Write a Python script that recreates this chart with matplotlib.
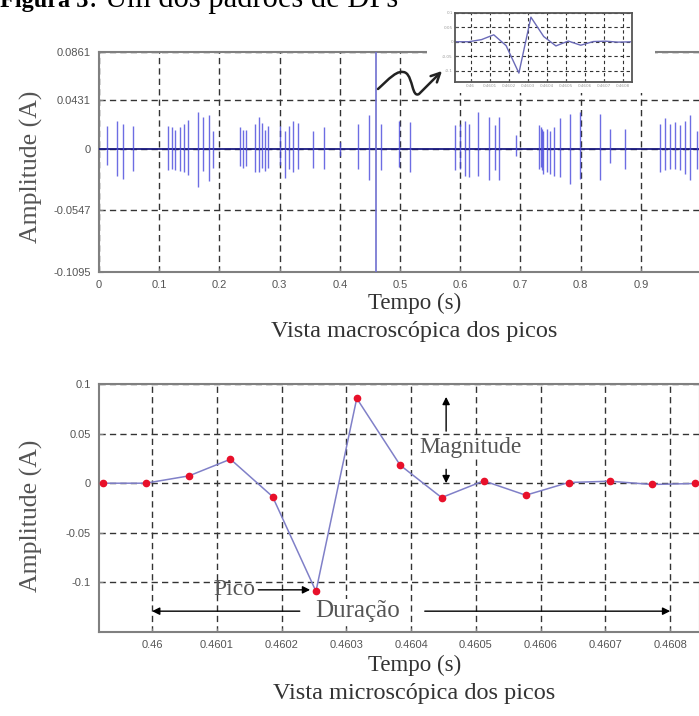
import matplotlib.pyplot as plt
from matplotlib.path import Path
from matplotlib.patches import FancyArrowPatch, Rectangle

# macroscopic view: spikes (time s, upper and lower extent in A)
spike_t = [0.014, 0.030, 0.040, 0.057, 0.115, 0.121, 0.127, 0.135, 0.142, 0.148,
           0.165, 0.173, 0.182, 0.190, 0.234, 0.240, 0.245, 0.259, 0.265, 0.270,
           0.276, 0.281, 0.300, 0.309, 0.316, 0.323, 0.331, 0.356, 0.373, 0.400,
           0.431, 0.449, 0.468, 0.499, 0.516, 0.591, 0.600, 0.608, 0.615, 0.630,
           0.648, 0.657, 0.665, 0.692, 0.731, 0.734, 0.736, 0.738, 0.744, 0.749,
           0.756, 0.766, 0.782, 0.799, 0.832, 0.849, 0.874, 0.932, 0.940, 0.949,
           0.957, 0.965, 0.973, 0.982, 0.993]
spike_hi = [0.020, 0.025, 0.022, 0.020, 0.020, 0.019, 0.017, 0.019, 0.022, 0.026,
            0.033, 0.028, 0.030, 0.016, 0.019, 0.017, 0.017, 0.022, 0.028, 0.023,
            0.017, 0.020, 0.020, 0.016, 0.020, 0.025, 0.023, 0.016, 0.019, 0.006,
            0.022, 0.030, 0.022, 0.025, 0.024, 0.021, 0.022, 0.025, 0.022, 0.033,
            0.028, 0.021, 0.028, 0.012, 0.021, 0.019, 0.018, 0.016, 0.018, 0.016,
            0.019, 0.027, 0.031, 0.033, 0.031, 0.018, 0.018, 0.022, 0.027, 0.022,
            0.024, 0.021, 0.025, 0.030, 0.016]
spike_lo = [-0.014, -0.024, -0.027, -0.020, -0.019, -0.018, -0.019, -0.020, -0.021, -0.023,
            -0.034, -0.020, -0.029, -0.017, -0.015, -0.017, -0.015, -0.021, -0.021, -0.017,
            -0.020, -0.017, -0.014, -0.026, -0.018, -0.021, -0.018, -0.017, -0.018, -0.006,
            -0.018, -0.028, -0.019, -0.016, -0.021, -0.019, -0.018, -0.024, -0.025, -0.024,
            -0.028, -0.019, -0.028, -0.006, -0.018, -0.016, -0.019, -0.022, -0.021, -0.022,
            -0.024, -0.025, -0.031, -0.027, -0.028, -0.013, -0.018, -0.021, -0.019, -0.018,
            -0.018, -0.019, -0.022, -0.028, -0.018]
baseline_t = [0.0, 1.0]
baseline_a = [0.0, 0.0]
marker_t = 0.46
top_yticks = [-0.1095, -0.0547, 0, 0.0431, 0.0861]
top_yticklabels = ['-0.1095', '-0.0547', '0', '0.0431', '0.0861']
top_xticks = [0, 0.1, 0.2, 0.3, 0.4, 0.5, 0.6, 0.7, 0.8, 0.9]

# microscopic view: the samples of one pulse
pulse_t = [0.459924, 0.459990, 0.460057, 0.460121, 0.460186, 0.460253, 0.460316,
           0.460383, 0.460447, 0.460512, 0.460577, 0.460643, 0.460707, 0.460772, 0.460838]
pulse_a = [0.0, 0.0, 0.0074, 0.0242, -0.0135, -0.109, 0.0855,
           0.0182, -0.0145, 0.0024, -0.0121, 0.0007, 0.0020, -0.0013, -0.0003]
bot_xticks = [0.46, 0.4601, 0.4602, 0.4603, 0.4604, 0.4605, 0.4606, 0.4607, 0.4608]
bot_xticklabels = ['0.46', '0.4601', '0.4602', '0.4603', '0.4604', '0.4605', '0.4606', '0.4607', '0.4608']
bot_yticks = [-0.1, -0.05, 0, 0.05, 0.1]
bot_yticklabels = ['-0.1', '-0.05', '0', '0.05', '0.1']

W, H = 699, 716
serif = 'Liberation Serif'
sans = 'Liberation Sans'
txt_col = '#555555'
grid_kw = dict(color='#333333', linestyle=(0, (4.5, 3)), linewidth=1.0)

fig = plt.figure(figsize=(W / 100, H / 100), dpi=100)


def style_axes(ax, lsize=8):
    ax.grid(True, **grid_kw)
    for s in ax.spines.values():
        s.set_color('#808080')
        s.set_linewidth(1.5)
    ax.tick_params(direction='in', length=3, color='#808080', labelcolor=txt_col,
                   labelsize=lsize, pad=6)
    for lab in ax.get_xticklabels() + ax.get_yticklabels():
        lab.set_fontfamily(sans)


# ---- top: macroscopic view
ax1 = fig.add_axes([99 / W, 1 - 272 / H, 602 / W, 220 / H])
ax1.plot(baseline_t, baseline_a, color='#1a1a80', lw=1.3, zorder=3)
ax1.vlines(spike_t, spike_lo, spike_hi, color='#4848dd', lw=1.0, alpha=0.8, zorder=3)
ax1.axvline(marker_t, color='#7070d0', lw=1.2, zorder=3)
ax1.set_xlim(0, 1.0)
ax1.set_ylim(-0.1095, 0.0861)
ax1.set_xticks(top_xticks)
ax1.set_xticklabels([f'{v:g}' for v in top_xticks])
ax1.set_yticks(top_yticks)
ax1.set_yticklabels(top_yticklabels)
style_axes(ax1)
ax1.set_ylabel('Amplitude (A)', fontfamily=serif, fontsize=18.5, color=txt_col)
ax1.yaxis.set_label_coords(-0.093, 0.48)
fig.text(415 / W, 1 - 303 / H, 'Tempo (s)', fontfamily=serif, fontsize=16.5,
         color='#333333', ha='center', va='center')
fig.text(414 / W, 1 - 331 / H, 'Vista macroscópica dos picos', fontfamily=serif,
         fontsize=17.5, color='#333333', ha='center', va='center')

# white gap behind the inset, breaking the top frame
fig.add_artist(Rectangle((427 / W, 1 - 93 / H), 228 / W, 93 / H, transform=fig.transFigure,
                         facecolor='white', edgecolor='none', zorder=5))

# inset with the zoomed pulse
axi = fig.add_axes([455 / W, 1 - 82 / H, 177 / W, 69 / H])
axi.set_zorder(6)
axi.plot(pulse_t, pulse_a, color='#6a6ab8', lw=1.0)
axi.set_xlim(0.459918, 0.460846)
axi.set_ylim(-0.14, 0.1)
axi.set_xticks(bot_xticks)
axi.set_yticks(bot_yticks)
axi.set_xticklabels(bot_xticklabels)
axi.set_yticklabels(bot_yticklabels)
axi.grid(True, color='#333333', linestyle=(0, (3, 2.5)), linewidth=0.8)
for s in axi.spines.values():
    s.set_color('#555555')
    s.set_linewidth(1.3)
axi.tick_params(direction='in', length=2, color='#555555', labelcolor='#999999',
                labelsize=3, pad=1.5)

# curved arrow pointing at the inset
px = [(378, 89), (388, 80), (398, 68), (406, 73), (413, 78), (412, 98), (419, 94), (442, 71)]
verts = [(x / W, 1 - y / H) for x, y in px]
codes = [Path.MOVETO] + [Path.CURVE4] * 6 + [Path.LINETO]
fig.add_artist(FancyArrowPatch(path=Path(verts, codes), arrowstyle='->', mutation_scale=16,
                               lw=1.8, color='#222222', transform=fig.transFigure, zorder=7))

# ---- bottom: microscopic view
ax2 = fig.add_axes([99 / W, 1 - 632 / H, 601 / W, 248 / H])
ax2.plot(pulse_t, pulse_a, color='#8080c8', lw=1.1, zorder=3)
ax2.plot(pulse_t, pulse_a, 'o', color='#e8102a', ms=4.5, zorder=4)
ax2.set_xlim(0.459918, 0.460846)
ax2.set_ylim(-0.15, 0.1)
ax2.set_xticks(bot_xticks)
ax2.set_xticklabels(bot_xticklabels)
ax2.set_yticks(bot_yticks)
ax2.set_yticklabels(bot_yticklabels)
style_axes(ax2)
ax2.set_ylabel('Amplitude (A)', fontfamily=serif, fontsize=18.5, color=txt_col)
ax2.yaxis.set_label_coords(-0.093, 0.47)
fig.text(415 / W, 1 - 665 / H, 'Tempo (s)', fontfamily=serif, fontsize=16.5,
         color='#333333', ha='center', va='center')
fig.text(414 / W, 1 - 694 / H, 'Vista microscópica dos picos', fontfamily=serif,
         fontsize=17.5, color='#333333', ha='center', va='center')

arrow_kw = dict(arrowstyle='-|>', color='black', lw=1.0, mutation_scale=11,
                shrinkA=0, shrinkB=0)
# Pico
ax2.text(0.460127, -0.1075, 'Pico', fontfamily=serif, fontsize=17, color=txt_col,
         ha='center', va='center', zorder=5)
ax2.annotate('', xy=(0.460244, -0.1075), xytext=(0.460164, -0.1075), arrowprops=arrow_kw)
# Duração
ax2.text(0.460318, -0.129, 'Duração', fontfamily=serif, fontsize=18, color=txt_col,
         ha='center', va='center', zorder=5,
         bbox=dict(facecolor='white', edgecolor='none', pad=1))
ax2.annotate('', xy=(0.46, -0.129), xytext=(0.460228, -0.129), arrowprops=arrow_kw)
ax2.annotate('', xy=(0.4608, -0.129), xytext=(0.460421, -0.129), arrowprops=arrow_kw)
# Magnitude
ax2.annotate('', xy=(0.460454, 0.087), xytext=(0.460454, 0.0525), arrowprops=arrow_kw)
ax2.annotate('', xy=(0.460454, 0.0), xytext=(0.460454, 0.014), arrowprops=arrow_kw)
ax2.text(0.460412, 0.036, 'Magnitude', fontfamily=serif, fontsize=17, color=txt_col,
         ha='left', va='center', zorder=5,
         bbox=dict(facecolor='white', edgecolor='none', pad=0.5))

# caption, cut at the top of the picture; regular part placed right after the bold part
bold = fig.text(0, 1 - 7 / H, 'Figura 3', fontfamily=serif, fontweight='bold', fontsize=17.5,
                color='black', ha='left', va='baseline')
fig.canvas.draw()
bb = bold.get_window_extent()
fig.text(bb.x1 / W + 1 / W, 1 - 7 / H, ': Um dos padrões de DPs', fontfamily=serif,
         fontsize=22, color='black', ha='left', va='baseline')

fig.savefig('out.png', dpi=100)
